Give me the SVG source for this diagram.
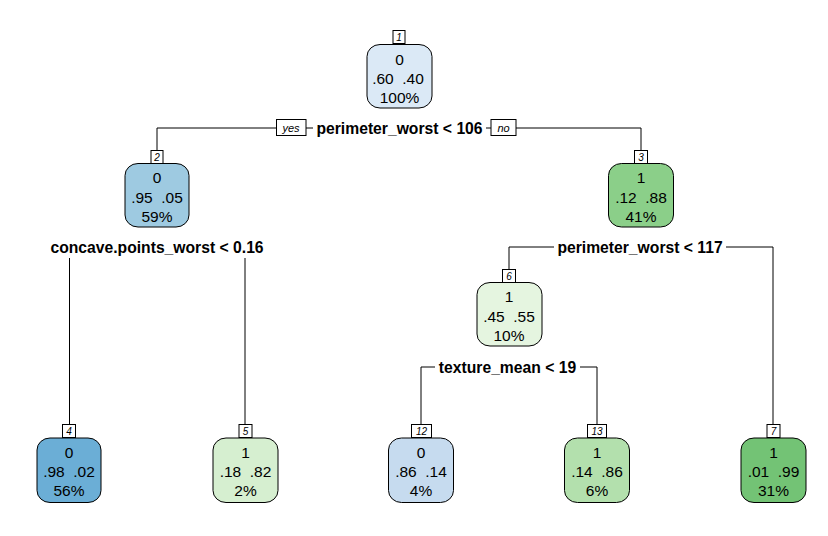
<svg xmlns="http://www.w3.org/2000/svg" width="828" height="536" viewBox="0 0 828 536">
<style>
.node{stroke:#000;stroke-width:1}
.lbl{fill:#fff;stroke:#000;stroke-width:1}
.lt{font-family:"Liberation Sans",Arial,sans-serif;font-size:10px;font-style:italic;text-anchor:middle;fill:#000}
.nt{font-family:"Liberation Sans",Arial,sans-serif;font-size:15.5px;text-anchor:middle;fill:#000;white-space:pre}
.st{font-family:"Liberation Sans",Arial,sans-serif;font-size:15.7px;font-weight:bold;text-anchor:middle;fill:#000}
.yn{font-family:"Liberation Sans",Arial,sans-serif;font-size:11px;font-style:italic;text-anchor:middle;fill:#000}
.c{stroke:#000;stroke-width:1;fill:none}
</style>
<rect width="828" height="536" fill="#fff"/>
<g id="connectors">
<path class="c" d="M157,150 V128 H277 M306,128 H313 M486,128 H491 M516,128 H641 V150"/>
<path class="c" d="M69.5,258 V424 M245,258 V424"/>
<path class="c" d="M509,269 V247 H554 M726,247 H773 V424"/>
<path class="c" d="M421,424 V367 H435 M580,367 H597 V424"/>
<rect class="lbl" x="276.5" y="119.5" width="29.5" height="16"/>
<text class="yn" x="291" y="131.5">yes</text>
<rect class="lbl" x="491" y="119.5" width="25" height="16"/>
<text class="yn" x="503.5" y="131.5">no</text>
</g>
<g id="node1">
<rect class="lbl" x="393" y="30.5" width="12" height="13"/>
<text class="lt" x="399" y="40.5">1</text>
<rect class="node" x="367" y="44.5" width="65" height="63.5" rx="13" ry="12" fill="#DBE9F6"/>
<text class="nt" x="399.5" y="65">0</text>
<text class="nt" x="398" y="84">.60  .40</text>
<text class="nt" x="399.5" y="102.5">100%</text>
<text class="st" x="399.5" y="133.5">perimeter_worst &lt; 106</text>
</g>
<g id="node2">
<rect class="lbl" x="151" y="150.5" width="12" height="13"/>
<text class="lt" x="157" y="160.5">2</text>
<rect class="node" x="125" y="163.5" width="64" height="63.5" rx="13" ry="12" fill="#9ECAE1"/>
<text class="nt" x="157" y="183">0</text>
<text class="nt" x="157" y="202.5">.95  .05</text>
<text class="nt" x="157" y="221.5">59%</text>
<text class="st" x="157" y="253">concave.points_worst &lt; 0.16</text>
</g>
<g id="node3">
<rect class="lbl" x="634.5" y="150.5" width="13" height="13"/>
<text class="lt" x="641" y="160.5">3</text>
<rect class="node" x="608.5" y="163.5" width="65" height="63.5" rx="13" ry="12" fill="#8BCF89"/>
<text class="nt" x="641" y="183">1</text>
<text class="nt" x="641" y="202.5">.12  .88</text>
<text class="nt" x="641" y="221.5">41%</text>
<text class="st" x="640" y="253">perimeter_worst &lt; 117</text>
</g>
<g id="node6">
<rect class="lbl" x="502.5" y="269.5" width="13" height="13"/>
<text class="lt" x="509" y="279.5">6</text>
<rect class="node" x="477" y="282.5" width="65" height="63.5" rx="13" ry="12" fill="#E5F5E0"/>
<text class="nt" x="509" y="302">1</text>
<text class="nt" x="509" y="321.5">.45  .55</text>
<text class="nt" x="509" y="340.5">10%</text>
<text class="st" x="507.5" y="372.5">texture_mean &lt; 19</text>
</g>
<g id="node4">
<rect class="lbl" x="62.5" y="424.5" width="13" height="13"/>
<text class="lt" x="69" y="434.5">4</text>
<rect class="node" x="37" y="438" width="64" height="64.5" rx="13" ry="12" fill="#6BAED6"/>
<text class="nt" x="69" y="458">0</text>
<text class="nt" x="69" y="477">.98  .02</text>
<text class="nt" x="69" y="496">56%</text>
</g>
<g id="node5">
<rect class="lbl" x="239" y="424.5" width="13" height="13"/>
<text class="lt" x="245.5" y="434.5">5</text>
<rect class="node" x="213" y="438" width="65" height="64.5" rx="13" ry="12" fill="#D6EFD0"/>
<text class="nt" x="245.5" y="458">1</text>
<text class="nt" x="245.5" y="477">.18  .82</text>
<text class="nt" x="245.5" y="496">2%</text>
</g>
<g id="node12">
<rect class="lbl" x="411.5" y="424.5" width="20" height="13"/>
<text class="lt" x="421.5" y="434.5">12</text>
<rect class="node" x="388.5" y="438" width="65" height="64.5" rx="13" ry="12" fill="#C6DBEF"/>
<text class="nt" x="421" y="458">0</text>
<text class="nt" x="421" y="477">.86  .14</text>
<text class="nt" x="421" y="496">4%</text>
</g>
<g id="node13">
<rect class="lbl" x="587.5" y="424.5" width="19" height="13"/>
<text class="lt" x="597" y="434.5">13</text>
<rect class="node" x="564.5" y="438" width="65" height="64.5" rx="13" ry="12" fill="#B3E0AD"/>
<text class="nt" x="597" y="458">1</text>
<text class="nt" x="597" y="477">.14  .86</text>
<text class="nt" x="597" y="496">6%</text>
</g>
<g id="node7">
<rect class="lbl" x="767" y="424.5" width="13" height="13"/>
<text class="lt" x="773.5" y="434.5">7</text>
<rect class="node" x="741" y="438" width="65" height="64.5" rx="13" ry="12" fill="#73C375"/>
<text class="nt" x="773.5" y="458">1</text>
<text class="nt" x="773.5" y="477">.01  .99</text>
<text class="nt" x="773.5" y="496">31%</text>
</g>
</svg>
